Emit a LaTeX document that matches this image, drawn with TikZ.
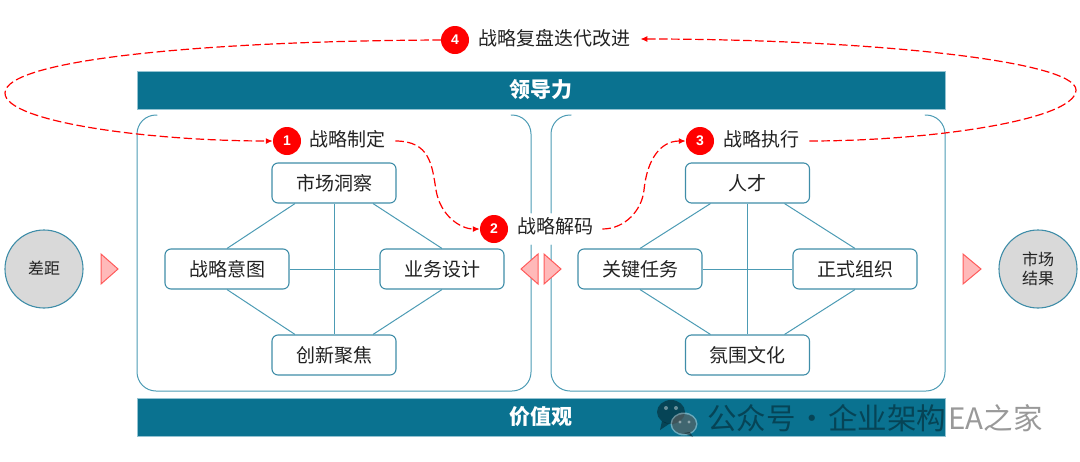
\documentclass[tikz,border=0pt]{standalone}
\usepackage{fontspec}
\setmainfont{Noto Sans CJK SC}
\newfontfamily\latinf{Liberation Sans}
\usetikzlibrary{calc,arrows.meta}
\definecolor{barteal}{HTML}{0A7290}
\definecolor{lineteal}{HTML}{4C9BB4}
\definecolor{edgeteal}{HTML}{3F8DA8}
\definecolor{tripink}{HTML}{FFB9B9}
\definecolor{trired}{HTML}{FF5A5A}
\definecolor{txt}{HTML}{222222}
\newcommand{\upb}[2]{\raisebox{#1pt}{#2}}
\tikzset{
 x=1pt,y=-1pt,
 barbox/.style={fill=barteal,draw=lineteal!60,line width=.8pt,minimum width=808pt,minimum height=38pt,inner sep=0pt,text=white,font=\fontsize{21}{24}\selectfont\bfseries},
 itembox/.style={draw=edgeteal,line width=1.1pt,fill=white,rounded corners=6pt,minimum width=124pt,minimum height=40pt,inner sep=0pt,text=txt,font=\fontsize{19}{23}\selectfont},
 endcircle/.style={circle,draw=edgeteal,line width=1.1pt,fill=black!15,minimum size=78pt,inner sep=0pt,text=txt,align=center,font=\fontsize{16}{19}\selectfont},
 numdot/.style={circle,fill=red,minimum size=28pt,inner sep=0pt,text=white,font=\latinf\fontsize{14}{16}\selectfont\bfseries},
 steplabel/.style={inner sep=0pt,text=txt,font=\fontsize{19}{23}\selectfont},
 panelline/.style={draw=lineteal,line width=1pt,line cap=round,rounded corners=19pt},
 linkline/.style={draw=lineteal,line width=1pt},
 redflow/.style={draw=red,line width=1.2pt,dash pattern=on 8.5pt off 3.5pt},
 redtip/.style={-{Latex[length=7pt,width=6pt]}},
 tri/.style={draw=trired,fill=tripink,line width=1pt,line join=miter},
}
\begin{document}
\begin{tikzpicture}
\useasboundingbox (0,0) rectangle (1080,461);
% bars
\node[barbox] (lead) at (541,90) {\upb{2.5}{领导力}};
\node[barbox] (value) at (541,417) {\upb{2}{价值观}};
% panels
\draw[panelline] (157,115) -- (137,115) -- (137,391) -- (531,391) -- (531,245);
\draw[panelline] (531,213) -- (531,115) -- (511,115);
\draw[panelline] (571,115) -- (551,115) -- (551,213);
\draw[panelline] (551,245) -- (551,391) -- (945,391) -- (945,115) -- (925,115);
% item boxes
\node[itembox] (mkt) at (334,183) {\upb{1.5}{市场洞察}};
\node[itembox] (intent) at (227,269) {\upb{1.5}{战略意图}};
\node[itembox] (biz) at (442,269) {\upb{1.5}{业务设计}};
\node[itembox] (inno) at (334,355) {\upb{1.5}{创新聚焦}};
\node[itembox] (talent) at (747.5,183) {\upb{1.5}{人才}};
\node[itembox] (task) at (640,269) {\upb{1.5}{关键任务}};
\node[itembox] (org) at (855,269) {\upb{1.5}{正式组织}};
\node[itembox] (cult) at (747.5,355) {\upb{1.5}{氛围文化}};
% links
\draw[linkline] ($(mkt.south)+(-39,0)$) -- (intent.north);
\draw[linkline] ($(mkt.south)+(39,0)$) -- (biz.north);
\draw[linkline] ($(inno.north)+(-39,0)$) -- (intent.south);
\draw[linkline] ($(inno.north)+(39,0)$) -- (biz.south);
\draw[linkline] (mkt.south) -- (inno.north);
\draw[linkline] (intent.east) -- (biz.west);
\draw[linkline] ($(talent.south)+(-37,0)$) -- (task.north);
\draw[linkline] ($(talent.south)+(37,0)$) -- (org.north);
\draw[linkline] ($(cult.north)+(-37,0)$) -- (task.south);
\draw[linkline] ($(cult.north)+(37,0)$) -- (org.south);
\draw[linkline] (talent.south) -- (cult.north);
\draw[linkline] (task.east) -- (org.west);
% end circles
\node[endcircle] (gap) at (44,269) {\upb{1.5}{差距}};
\node[endcircle] (result) at (1038,269) {\upb{1}{市场}\\\upb{1}{结果}};
% triangles
\draw[tri] (101,254) -- (118,269) -- (101,284) -- cycle;
\draw[tri] (538,254) -- (521,269) -- (538,284) -- cycle;
\draw[tri] (544,254) -- (561,269) -- (544,284) -- cycle;
\draw[tri] (963,254) -- (981,269) -- (963,284) -- cycle;
% numbered steps
\node[numdot] (n1) at (287,141) {1};
\node[numdot] (n2) at (494,229) {2};
\node[numdot] (n3) at (700,141) {3};
\node[numdot] (n4) at (455,40) {4};
\node[steplabel,anchor=west] (l1) at (309,139) {战略制定};
\node[steplabel,anchor=west] (l2) at (517,226) {战略解码};
\node[steplabel,anchor=west] (l3) at (723,139) {战略执行};
\node[steplabel,anchor=west] (l4) at (478,38) {战略复盘迭代改进};
% red flows
\draw[redflow,redtip] (n4.west) .. controls (200,41) and (5,60) .. (5,93) .. controls (5,122) and (150,141) .. (n1.west);
\draw[redflow,redtip] (l1.east)++(10,2) .. controls (430,141) and (432,165) .. (436,190) .. controls (440,215) and (460,229) .. (n2.west);
\draw[redflow,redtip] (l2.east)++(9,3) .. controls (625,229) and (642,210) .. (644,190) .. controls (647,160) and (660,141) .. (n3.west);
\draw[redflow,redtip] (l3.east)++(10,2) .. controls (930,141) and (1076,120) .. (1076,90) .. controls (1076,60) and (860,39) .. ($(l4.east)+(10,1)$);
% watermark
\begin{scope}[opacity=.4]
\fill[black] (671,412) ellipse[x radius=14,y radius=12];
\fill[black] (662,421) -- (660,430) -- (669,424) -- cycle;
\fill[white] (684,424) ellipse[x radius=13.5,y radius=11.5];
\fill[black] (684,424) ellipse[x radius=12,y radius=10];
\fill[black] (690,432) -- (693,437) -- (684,433) -- cycle;
\fill[white] (666,408) circle[radius=2];
\fill[white] (676,408) circle[radius=2];
\fill[white] (680,422) circle[radius=1.6];
\fill[white] (689,422) circle[radius=1.6];
\node[inner sep=0pt,anchor=west,text=black,font=\fontsize{29.5}{33}\selectfont] (wm) at (707,418) {公众号\hspace{-5pt} · \hspace{-5pt}企业架构\hspace{2pt}EA之家};
\end{scope}
\end{tikzpicture}
\end{document}
